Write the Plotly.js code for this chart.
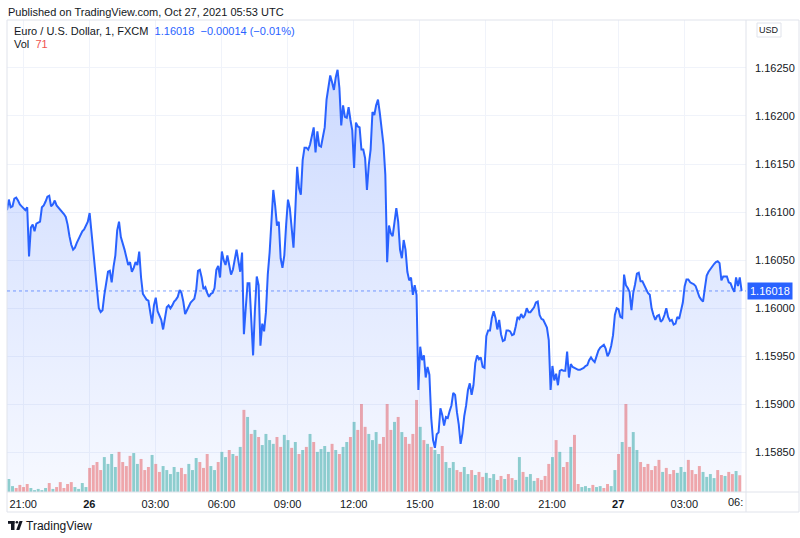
<!DOCTYPE html>
<html><head><meta charset="utf-8">
<script src="https://cdn.plot.ly/plotly-3.0.1.min.js"></script>
<style>html,body{margin:0;padding:0;background:#fff}#chart{width:800px;height:538px}</style>
</head><body><div id="chart"></div>
<script>
// ---- data ----
const priceStart = '2021-10-25 20:16';
const priceStepMs = 5 * 60 * 1000;
const price = [
1.16102,1.16113,1.16105,1.16106,1.16114,1.16115,1.16112,1.16108,1.16106,1.16104,1.16102,1.16105,
1.16054,1.16084,1.16087,1.16080,1.16088,1.16089,1.16090,1.16105,1.16107,1.16111,1.16116,1.16117,
1.16106,1.16108,1.16112,1.16107,1.16105,1.16103,1.16100,1.16098,1.16095,1.16087,1.16075,1.16066,
1.16061,1.16063,1.16068,1.16072,1.16077,1.16080,1.16082,1.16086,1.16090,1.16099,1.16079,1.16056,
1.16040,1.16018,1.16000,1.15996,1.15998,1.16014,1.16026,1.16038,1.16039,1.16027,1.16043,1.16055,
1.16081,1.16090,1.16074,1.16068,1.16061,1.16053,1.16045,1.16048,1.16038,1.16042,1.16048,1.16045,
1.16059,1.16032,1.16015,1.16012,1.16009,1.16008,1.15995,1.15984,1.16003,1.16011,1.15997,1.15993,
1.15988,1.15978,1.15988,1.16001,1.16003,1.16000,1.16003,1.16007,1.16009,1.16012,1.16019,1.16016,
1.16007,1.15994,1.15998,1.16002,1.16006,1.16008,1.16010,1.16019,1.16039,1.16040,
1.16032,1.16020,1.16022,1.16016,1.16012,1.16015,1.16016,1.16021,1.16040,1.16044,1.16032,1.16059,
1.16050,1.16045,1.16055,1.16045,1.16035,1.16040,1.16053,1.16061,1.16049,1.16038,1.16058,1.15973,
1.16000,1.16026,1.16026,1.15988,1.15951,1.15998,1.16033,1.16024,1.15961,1.15984,1.15976,1.15996,
1.16035,1.16058,1.16090,1.16123,1.16107,1.16086,1.16090,1.16052,1.16042,1.16055,1.16087,1.16113,
1.16104,1.16087,1.16063,1.16102,1.16147,1.16125,1.16118,1.16154,1.16167,1.16167,1.16165,1.16170,
1.16180,1.16188,1.16162,1.16184,1.16169,1.16168,1.16178,1.16188,1.16217,1.16228,1.16242,1.16235,
1.16227,1.16240,1.16248,1.16229,1.16190,1.16211,1.16199,1.16198,1.16209,1.16196,1.16185,1.16146,
1.16193,1.16189,1.16188,1.16165,1.16165,1.16156,1.16123,1.16149,1.16165,1.16204,1.16201,1.16211,
1.16217,1.16203,1.16185,1.16170,1.16139,1.16048,1.16086,1.16078,1.16075,1.16091,1.16104,1.16090,
1.16061,1.16052,1.16071,1.16061,1.16038,1.16029,1.16032,1.16014,1.16024,1.16014,1.15915,1.15960,
1.15946,1.15951,1.15928,1.15939,1.15931,1.15886,1.15863,1.15855,1.15869,1.15871,1.15896,1.15889,
1.15878,1.15887,1.15886,1.15893,1.15899,1.15912,1.15910,1.15892,1.15879,1.15859,1.15870,1.15888,
1.15899,1.15915,1.15922,1.15910,1.15920,1.15943,1.15951,1.15947,1.15949,1.15939,1.15938,1.15971,
1.15977,1.15977,1.15990,1.15997,1.15990,1.15978,1.15988,1.15973,1.15966,1.15967,1.15977,1.15977,
1.15976,1.15972,1.15973,1.15981,1.15991,1.15989,1.15994,1.15990,1.15993,1.16000,1.15996,1.15996,
1.15998,1.16001,1.16006,1.16007,1.15993,1.15989,1.15988,1.15983,1.15980,1.15967,1.15915,1.15940,
1.15925,1.15932,1.15920,1.15935,1.15936,1.15935,1.15935,1.15955,1.15928,1.15942,1.15939,1.15938,
1.15937,1.15936,1.15936,1.15937,1.15938,1.15940,1.15941,1.15946,1.15949,1.15946,1.15944,1.15950,
1.15956,1.15959,1.15961,1.15962,1.15958,1.15950,1.15954,1.15961,1.15972,1.15993,1.16000,1.15999,
1.15991,1.15990,1.16035,1.16024,1.16021,1.16017,1.15998,1.16016,1.16025,1.16036,1.16037,1.16028,
1.16028,1.16024,1.16019,1.16016,1.16014,1.16000,1.15993,1.15988,1.15992,1.15993,1.15986,1.15988,
1.15993,1.16000,1.15991,1.15987,1.15988,1.15983,1.15984,1.15991,1.15989,1.15997,1.16006,1.16023,
1.16030,1.16030,1.16027,1.16026,1.16025,1.16023,1.16017,1.16012,1.16009,1.16007,1.16021,1.16034,
1.16038,1.16041,1.16043,1.16046,1.16048,1.16049,1.16047,1.16029,1.16033,1.16033,1.16033,1.16027,
1.16026,1.16021,1.16017,1.16032,1.16023,1.16032,1.16018
];
const volStart = '2021-10-25 20:21';
const volStepMs = 10 * 60 * 1000;
const volume = [
55,25,17,30,21,34,17,8,13,8,
17,38,13,21,42,17,34,42,21,13,
38,21,102,114,127,93,148,119,161,106,
170,127,110,153,165,119,140,93,106,157,
119,85,110,93,76,106,85,102,76,119,
93,144,127,102,161,110,93,127,170,148,
178,161,153,191,348,318,246,263,233,199,
246,220,204,233,191,242,220,187,212,161,
178,191,246,212,170,182,195,170,204,178,
161,191,212,233,297,263,373,276,246,220,
254,204,233,373,263,297,318,254,233,204,
246,390,276,220,204,191,178,161,195,127,
102,127,93,85,106,76,93,72,85,64,
81,59,76,51,68,55,76,59,51,148,
85,64,76,47,59,51,68,119,148,220,
170,106,127,191,242,34,21,25,17,30,
21,25,17,34,25,93,161,212,373,191,
254,178,127,106,119,93,110,136,85,102,
76,93,81,106,85,136,93,76,110,85,
64,76,59,93,72,68,85,76,89,71
];
const tickTimes = ['2021-10-25 21:00','2021-10-26 00:00','2021-10-26 03:00','2021-10-26 06:00',
  '2021-10-26 09:00','2021-10-26 12:00','2021-10-26 15:00','2021-10-26 18:00','2021-10-26 21:00',
  '2021-10-27 00:00','2021-10-27 03:00'];
const tickLabels = ['21:00','<b>26</b>','03:00','06:00','09:00','12:00','15:00','18:00','21:00','<b>27</b>','03:00'];
const priceTicks = [1.1585,1.1590,1.1595,1.1600,1.1605,1.1610,1.1615,1.1620,1.1625];
const symbolName = 'Euro / U.S. Dollar, 1, FXCM';
const publishedText = 'Published on TradingView.com, Oct 27, 2021 05:53 UTC';

// ---- styling / geometry ----
const W = 800, H = 538, ML = 7, MR = 54, MT = 20, MB = 46;
const PW = W - ML - MR, PH = H - MT - MB;
const px = p => (p - ML) / PW;          // pixel -> paper x
const py = p => (H - MB - p) / PH;      // pixel -> paper y
const BLUE = '#2962FF', TEAL = 'rgba(38,166,154,0.5)', RED = 'rgba(239,83,80,0.5)';
const TXT = '#131722', GRID = '#f0f3fa', BORDER = '#e0e3eb';
const FONT = '"Liberation Sans", Arial, sans-serif';
const NARROW = '"Liberation Sans Narrow", "Liberation Sans", Arial, sans-serif';
const yLow = 1.15809, yHigh = 1.162997;

const last = price[price.length - 1], prev = price[price.length - 2];
const chg = last - prev, pct = chg / prev * 100;
const chgText = (chg < 0 ? '\u2212' : '') + Math.abs(chg).toFixed(5) + ' (' + (pct < 0 ? '\u2212' : '') + Math.abs(pct).toFixed(2) + '%)';

const volColors = volume.map((v, j) => {
  const o = price[Math.min(2 * j, price.length - 1)];
  const c = price[Math.min(2 * j + 2, price.length - 1)];
  return c >= o ? TEAL : RED;
});

const traces = [
  { type: 'bar', x0: volStart, dx: volStepMs, y: volume, yaxis: 'y',
    marker: { color: volColors, line: { width: 0 } }, hoverinfo: 'skip' },
  { type: 'scatter', mode: 'lines', x0: priceStart, dx: priceStepMs, y: price, yaxis: 'y2',
    line: { color: BLUE, width: 2 }, fill: 'tozeroy',
    fillgradient: { type: 'vertical', start: yLow, stop: yHigh,
      colorscale: [[0, 'rgba(41,98,255,0.04)'], [1, 'rgba(41,98,255,0.26)']] },
    hoverinfo: 'skip' }
];

const shapes = [
  { type: 'rect', xref: 'paper', yref: 'paper', x0: 0, x1: px(799), y0: py(512), y1: 1,
    line: { color: BORDER, width: 1 }, layer: 'above' },
  { type: 'line', xref: 'paper', yref: 'paper', x0: 1, x1: 1, y0: py(512), y1: 1,
    line: { color: BORDER, width: 1 }, layer: 'above' },
  { type: 'line', xref: 'paper', yref: 'paper', x0: 0, x1: px(799), y0: 0, y1: 0,
    line: { color: BORDER, width: 1 }, layer: 'above' },
  { type: 'line', xref: 'paper', yref: 'y2', x0: 0, x1: 1, y0: last, y1: last,
    line: { color: BLUE, width: 1, dash: 'dot' }, opacity: 0.6 },
  { type: 'rect', xref: 'paper', yref: 'paper', x0: px(757), x1: px(781), y0: py(37), y1: py(23),
    line: { color: BORDER, width: 1 } },
  // TradingView logo
  { type: 'rect', xref: 'paper', yref: 'paper', x0: px(8), x1: px(14.5), y0: py(523.8), y1: py(521),
    fillcolor: TXT, line: { width: 0 } },
  { type: 'rect', xref: 'paper', yref: 'paper', x0: px(11), x1: px(14.5), y0: py(530), y1: py(521),
    fillcolor: TXT, line: { width: 0 } },
  { type: 'circle', xref: 'paper', yref: 'paper', x0: px(15.6), x1: px(18.2), y0: py(523.6), y1: py(521),
    fillcolor: TXT, line: { width: 0 } },
  { type: 'path', xref: 'paper', yref: 'paper',
    path: `M ${px(19.5)} ${py(521)} L ${px(22.6)} ${py(521)} L ${px(19.4)} ${py(530)} L ${px(16.3)} ${py(530)} Z`,
    fillcolor: TXT, line: { width: 0 } }
];

const annotations = [
  { xref: 'paper', yref: 'paper', x: px(6), y: py(12), xanchor: 'left', yanchor: 'middle', showarrow: false,
    text: publishedText, font: { family: NARROW, size: 11, color: TXT } },
  { xref: 'paper', yref: 'paper', x: px(12), y: py(31), xanchor: 'left', yanchor: 'middle', showarrow: false,
    text: symbolName + '  <span style="color:' + BLUE + '">' + last.toFixed(5) + '  ' + chgText + '</span>',
    font: { family: NARROW, size: 11, color: TXT } },
  { xref: 'paper', yref: 'paper', x: px(12), y: py(44), xanchor: 'left', yanchor: 'middle', showarrow: false,
    text: 'Vol  <span style="color:#ef5350">' + volume[volume.length - 1] + '</span>',
    font: { family: NARROW, size: 11, color: TXT } },
  { xref: 'paper', yref: 'paper', x: px(769), y: py(30), xanchor: 'center', yanchor: 'middle', showarrow: false,
    text: 'USD', font: { family: FONT, size: 9, color: TXT } },
  { xref: 'paper', yref: 'y2', x: px(747), y: last, xanchor: 'left', yanchor: 'middle', showarrow: false,
    text: last.toFixed(5), bgcolor: BLUE, borderpad: 2,
    font: { family: FONT, size: 11, color: '#ffffff' } },
  { xref: 'paper', yref: 'paper', x: px(745), y: py(502), xanchor: 'right', yanchor: 'middle', showarrow: false,
    text: '06:', font: { family: FONT, size: 11, color: TXT } },
  { xref: 'paper', yref: 'paper', x: px(24), y: py(525.5), xanchor: 'left', yanchor: 'middle', showarrow: false,
    text: 'TradingView', font: { family: NARROW, size: 12, color: TXT } }
];

const layout = {
  width: W, height: H,
  margin: { l: ML, r: MR, t: MT, b: MB, pad: 0 },
  paper_bgcolor: '#ffffff', plot_bgcolor: '#ffffff',
  showlegend: false, hovermode: false, bargap: 0.2,
  xaxis: { type: 'date', range: ['2021-10-25 20:16', '2021-10-27 05:48'],
    tickmode: 'array', tickvals: tickTimes, ticktext: tickLabels,
    showgrid: true, gridcolor: GRID, gridwidth: 1, zeroline: false, showline: false, ticks: '',
    ticklabelstandoff: 4, tickfont: { family: FONT, size: 11, color: TXT } },
  yaxis: { range: [0, 2000], visible: false, showgrid: false, zeroline: false },
  yaxis2: { overlaying: 'y', side: 'right', range: [yLow, yHigh],
    tickmode: 'array', tickvals: priceTicks, tickformat: '.5f',
    showgrid: true, gridcolor: GRID, gridwidth: 1, zeroline: false, showline: false, ticks: '',
    ticklabelstandoff: 8, tickfont: { family: FONT, size: 11, color: TXT } },
  shapes: shapes, annotations: annotations
};

Plotly.newPlot('chart', traces, layout, { staticPlot: true, displayModeBar: false });
</script></body></html>
